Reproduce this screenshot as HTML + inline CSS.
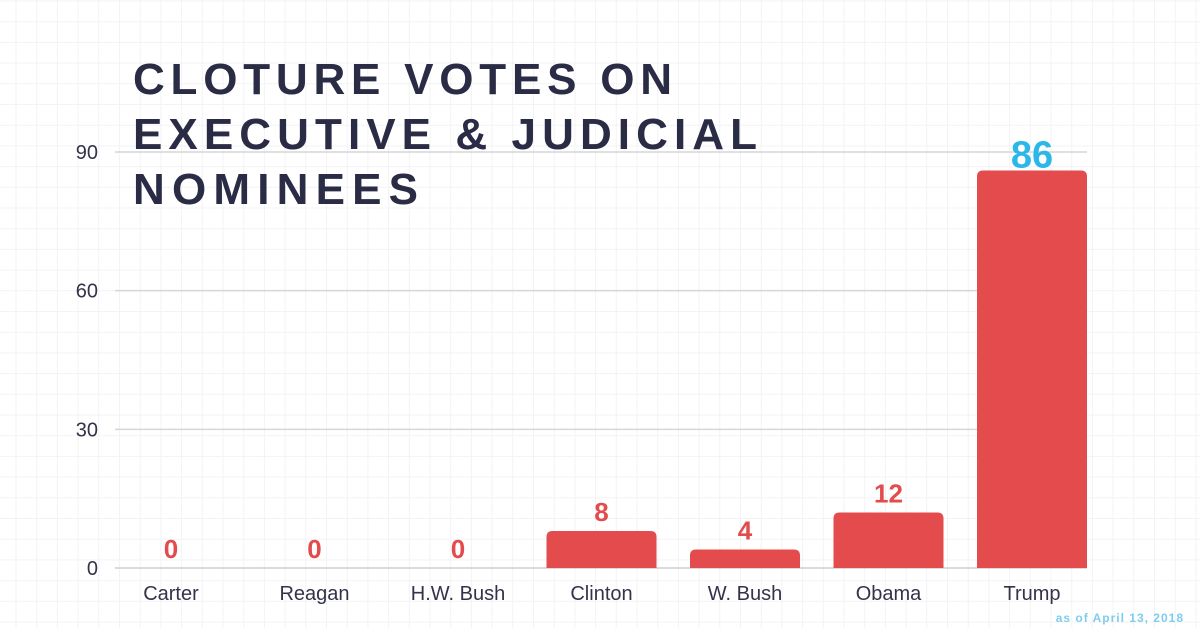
<!DOCTYPE html>
<html><head><meta charset="utf-8"><style>
html,body{margin:0;padding:0;background:#fff;}
svg{display:block;font-family:"Liberation Sans",sans-serif;}
</style></head><body>
<svg id="chart" width="1200" height="628" viewBox="0 0 1200 628" xmlns="http://www.w3.org/2000/svg">
<g id="bggrid"></g>
<g id="gridlines"></g>
<g id="ticks"></g>
<g id="bars"></g>
<g id="cats"></g>
<g fill="#2a2b45" font-weight="bold" font-size="44">
<text x="133" y="94" textLength="539" lengthAdjust="spacing">CLOTURE VOTES ON</text>
<text x="133" y="149" textLength="624" lengthAdjust="spacing">EXECUTIVE &amp; JUDICIAL</text>
<text x="133" y="204" textLength="285" lengthAdjust="spacing">NOMINEES</text>
</g>
<text x="1184" y="622" text-anchor="end" font-size="12" font-weight="bold" fill="#7fcdee" letter-spacing="1">as of April 13, 2018</text>
</svg>
<script>
const categories = ["Carter","Reagan","H.W. Bush","Clinton","W. Bush","Obama","Trump"];
const values = [0,0,0,8,4,12,86];
const valueLabels = ["0","0","0","8","4","12","86"];
const yTicks = [0,30,60,90];
const NS="http://www.w3.org/2000/svg";
const y0=568,y90=152,xStart=171,xStep=143.5,barW=110;
function yScale(v){return y0-(v/90)*(y0-y90);}
function xScale(i){return xStart+i*xStep;}
function mk(t,a,p){const e=document.createElementNS(NS,t);for(const k in a)e.setAttribute(k,a[k]);p.appendChild(e);return e;}
const bg=document.getElementById('bggrid');
for(let x=16;x<1200;x+=20.7){const l=mk('line',{x1:x,x2:x,y1:0,y2:628,stroke:'#f3f3f5','stroke-width':1},bg);

}
for(let y=1;y<628;y+=20.7){const l=mk('line',{x1:0,x2:1200,y1:y,y2:y,stroke:'#f3f3f5','stroke-width':1},bg);

}
const gl=document.getElementById('gridlines'),tk=document.getElementById('ticks');
yTicks.forEach(v=>{const y=yScale(v);
const l=mk('line',{x1:115,x2:1087,y1:y,y2:y,stroke:v===0?'#cfcfd4':'#d6d6da','stroke-width':1.5},gl);


const t=mk('text',{x:98,y:y+7,'text-anchor':'end','font-size':20,fill:'#33334a'},tk);t.textContent=v;

});
const bars=document.getElementById('bars'),cats=document.getElementById('cats');
categories.forEach((c,i)=>{const cx=xScale(i),v=values[i],top=yScale(v);
if(v>0){const r=mk('path',{d:`M${cx-barW/2},${y0} V${top+6} Q${cx-barW/2},${top} ${cx-barW/2+6},${top} H${cx+barW/2-6} Q${cx+barW/2},${top} ${cx+barW/2},${top+6} V${y0} Z`,fill:'#e34b4c'},bars);

}
const last=i===categories.length-1;
const lab=mk('text',{x:cx,y:last?top-3:top-10,'text-anchor':'middle','font-size':last?38:26,'font-weight':'bold',fill:last?'#2bb7e8':'#e34b4c'},bars);
lab.textContent=valueLabels[i];


const t=mk('text',{x:cx,y:600,'text-anchor':'middle','font-size':20,fill:'#33334a'},cats);t.textContent=c;

});
</script>
</body></html>
